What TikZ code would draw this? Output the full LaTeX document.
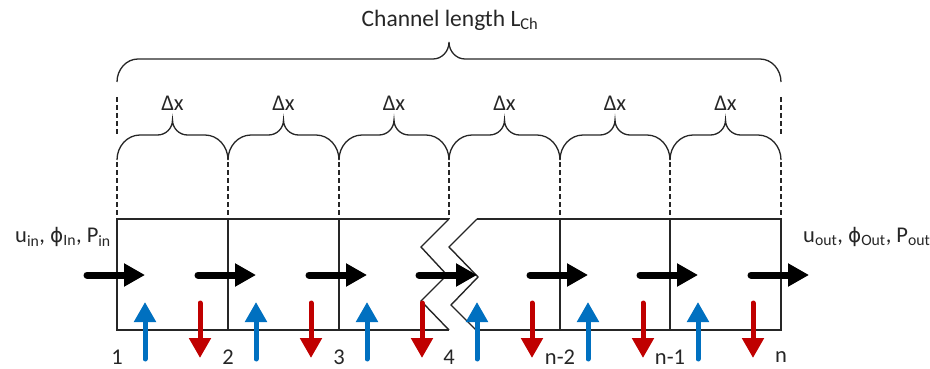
\documentclass[tikz,border=0pt]{standalone}
\usepackage{fontspec}
\setmainfont{Carlito}
\newfontfamily\phifont{DejaVu Sans}
\usetikzlibrary{arrows.meta}
\definecolor{flowblue}{RGB}{0,112,192}
\definecolor{flowred}{RGB}{192,0,0}
\newcommand{\CurlyBr}[7]{% #1 a, #2 b, #3 y end, #4 y bar, #5 y peak, #6 end radius, #7 peak radius
  \pgfmathsetmacro\bracemid{(#1+#2)/2}
  \draw[bracepath] (#1,#3) .. controls (#1,{#3-0.552*(#3-#4)}) and ({#1+0.448*#6},#4) .. ({#1+#6},#4)
    -- ({\bracemid-#7},#4) .. controls ({\bracemid-0.448*#7},#4) and (\bracemid,{#5+0.552*(#4-#5)}) .. (\bracemid,#5)
    .. controls (\bracemid,{#5+0.552*(#4-#5)}) and ({\bracemid+0.448*#7},#4) .. ({\bracemid+#7},#4)
    -- ({#2-#6},#4) .. controls ({#2-0.448*#6},#4) and (#2,{#3-0.552*(#3-#4)}) .. (#2,#3);
}
\newcommand{\phisym}{{\phifont\fontsize{20}{24}\selectfont ϕ}}
\begin{document}
\begin{tikzpicture}[x=1pt,y=-1pt,
  frame/.style={line width=1.4pt, black!85},
  dashv/.style={line width=1.3pt, black!85, dash pattern=on 5pt off 3pt},
  bracepath/.style={line width=1.3pt, black!85},
  flow/.style={line width=7pt, line cap=round, -{Triangle[length=21pt,width=22pt]}},
  inflow/.style={line width=5pt, line cap=round, flowblue, -{Triangle[length=20pt,width=21pt]}},
  outflow/.style={line width=5pt, line cap=round, flowred, -{Triangle[length=20pt,width=21pt]}},
  lbl/.style={font=\fontsize{22.5}{27}\selectfont, inner sep=0pt, text=black!85},
]
\useasboundingbox (0,0) rectangle (930,369);

% cell edge coordinates
\foreach \x [count=\i from 0] in {117,228,339,449,560,670,781}{
  \coordinate (e\i) at (\x,219);
  \coordinate (b\i) at (\x,330);
  \coordinate (g\i) at (\x,162);
}

% box frame
\draw[frame] (449,219) -- (e0) -- (b0) -- (449,330);
\draw[frame] (449,219) -- (421,247) -- (447,275) -- (421,301) -- (449,330);
\draw[frame] (477,219) -- (449,247) -- (478,277) -- (451,305) -- (476,330);
\draw[frame] (477,219) -- (e6) -- (b6) -- (476,330);
\foreach \i in {1,2,4,5}{
  \draw[frame] (e\i) -- (b\i);
}

% dashed guides
\foreach \i in {0,...,6}{
  \draw[dashv] (g\i) -- (e\i);
}
\draw[dashv] (117,97) -- (117,134);
\draw[dashv] (781,97) -- (781,134);

% braces
\CurlyBr{117}{781}{82}{59}{42}{21}{16}
\foreach \xa/\xb [count=\i from 0] in {117/228,228/339,339/449,449/560,560/670,670/781}{
  \CurlyBr{\xa}{\xb}{160}{135}{120}{23}{15}
  \node[lbl] (dx\i) at ({(\xa+\xb)/2},103) {Δx};
}

\node[lbl, font=\fontsize{23.5}{28}\selectfont] (title) at (450,20) {Channel length L\textsubscript{Ch}};

% flow arrows
\foreach \x [count=\i from 0] in {117,228,339,449,560,670,781}{
  \coordinate (fs\i) at ({\x-30},275);
  \coordinate (ft\i) at ({\x+28},275);
  \draw[flow] (fs\i) -- (ft\i);
}
\foreach \x [count=\i from 0] in {117,228,339,449,560,670}{
  \coordinate (us\i) at ({\x+28},359);
  \coordinate (ut\i) at ({\x+28},302);
  \draw[inflow] (us\i) -- (ut\i);
  \coordinate (ds\i) at ({\x+83},303);
  \coordinate (dt\i) at ({\x+83},358);
  \draw[outflow] (ds\i) -- (dt\i);
}

% cell numbers
\node[lbl] (n1) at (117,357) {1};
\node[lbl] (n2) at (228,357) {2};
\node[lbl] (n3) at (339,357) {3};
\node[lbl] (n4) at (449,357) {4};
\node[lbl] (n5) at (560,357) {n-2};
\node[lbl] (n6) at (670,357) {n-1};
\node[lbl] (n7) at (781,357) {n};

% boundary labels
\node[lbl, anchor=west] (inlet) at (15,237) {u\textsubscript{in}, \phisym\textsubscript{In}, P\textsubscript{in}};
\node[lbl, anchor=west] (outlet) at (803,237) {u\textsubscript{out}, \phisym\textsubscript{Out}, P\textsubscript{out}};
\end{tikzpicture}
\end{document}
